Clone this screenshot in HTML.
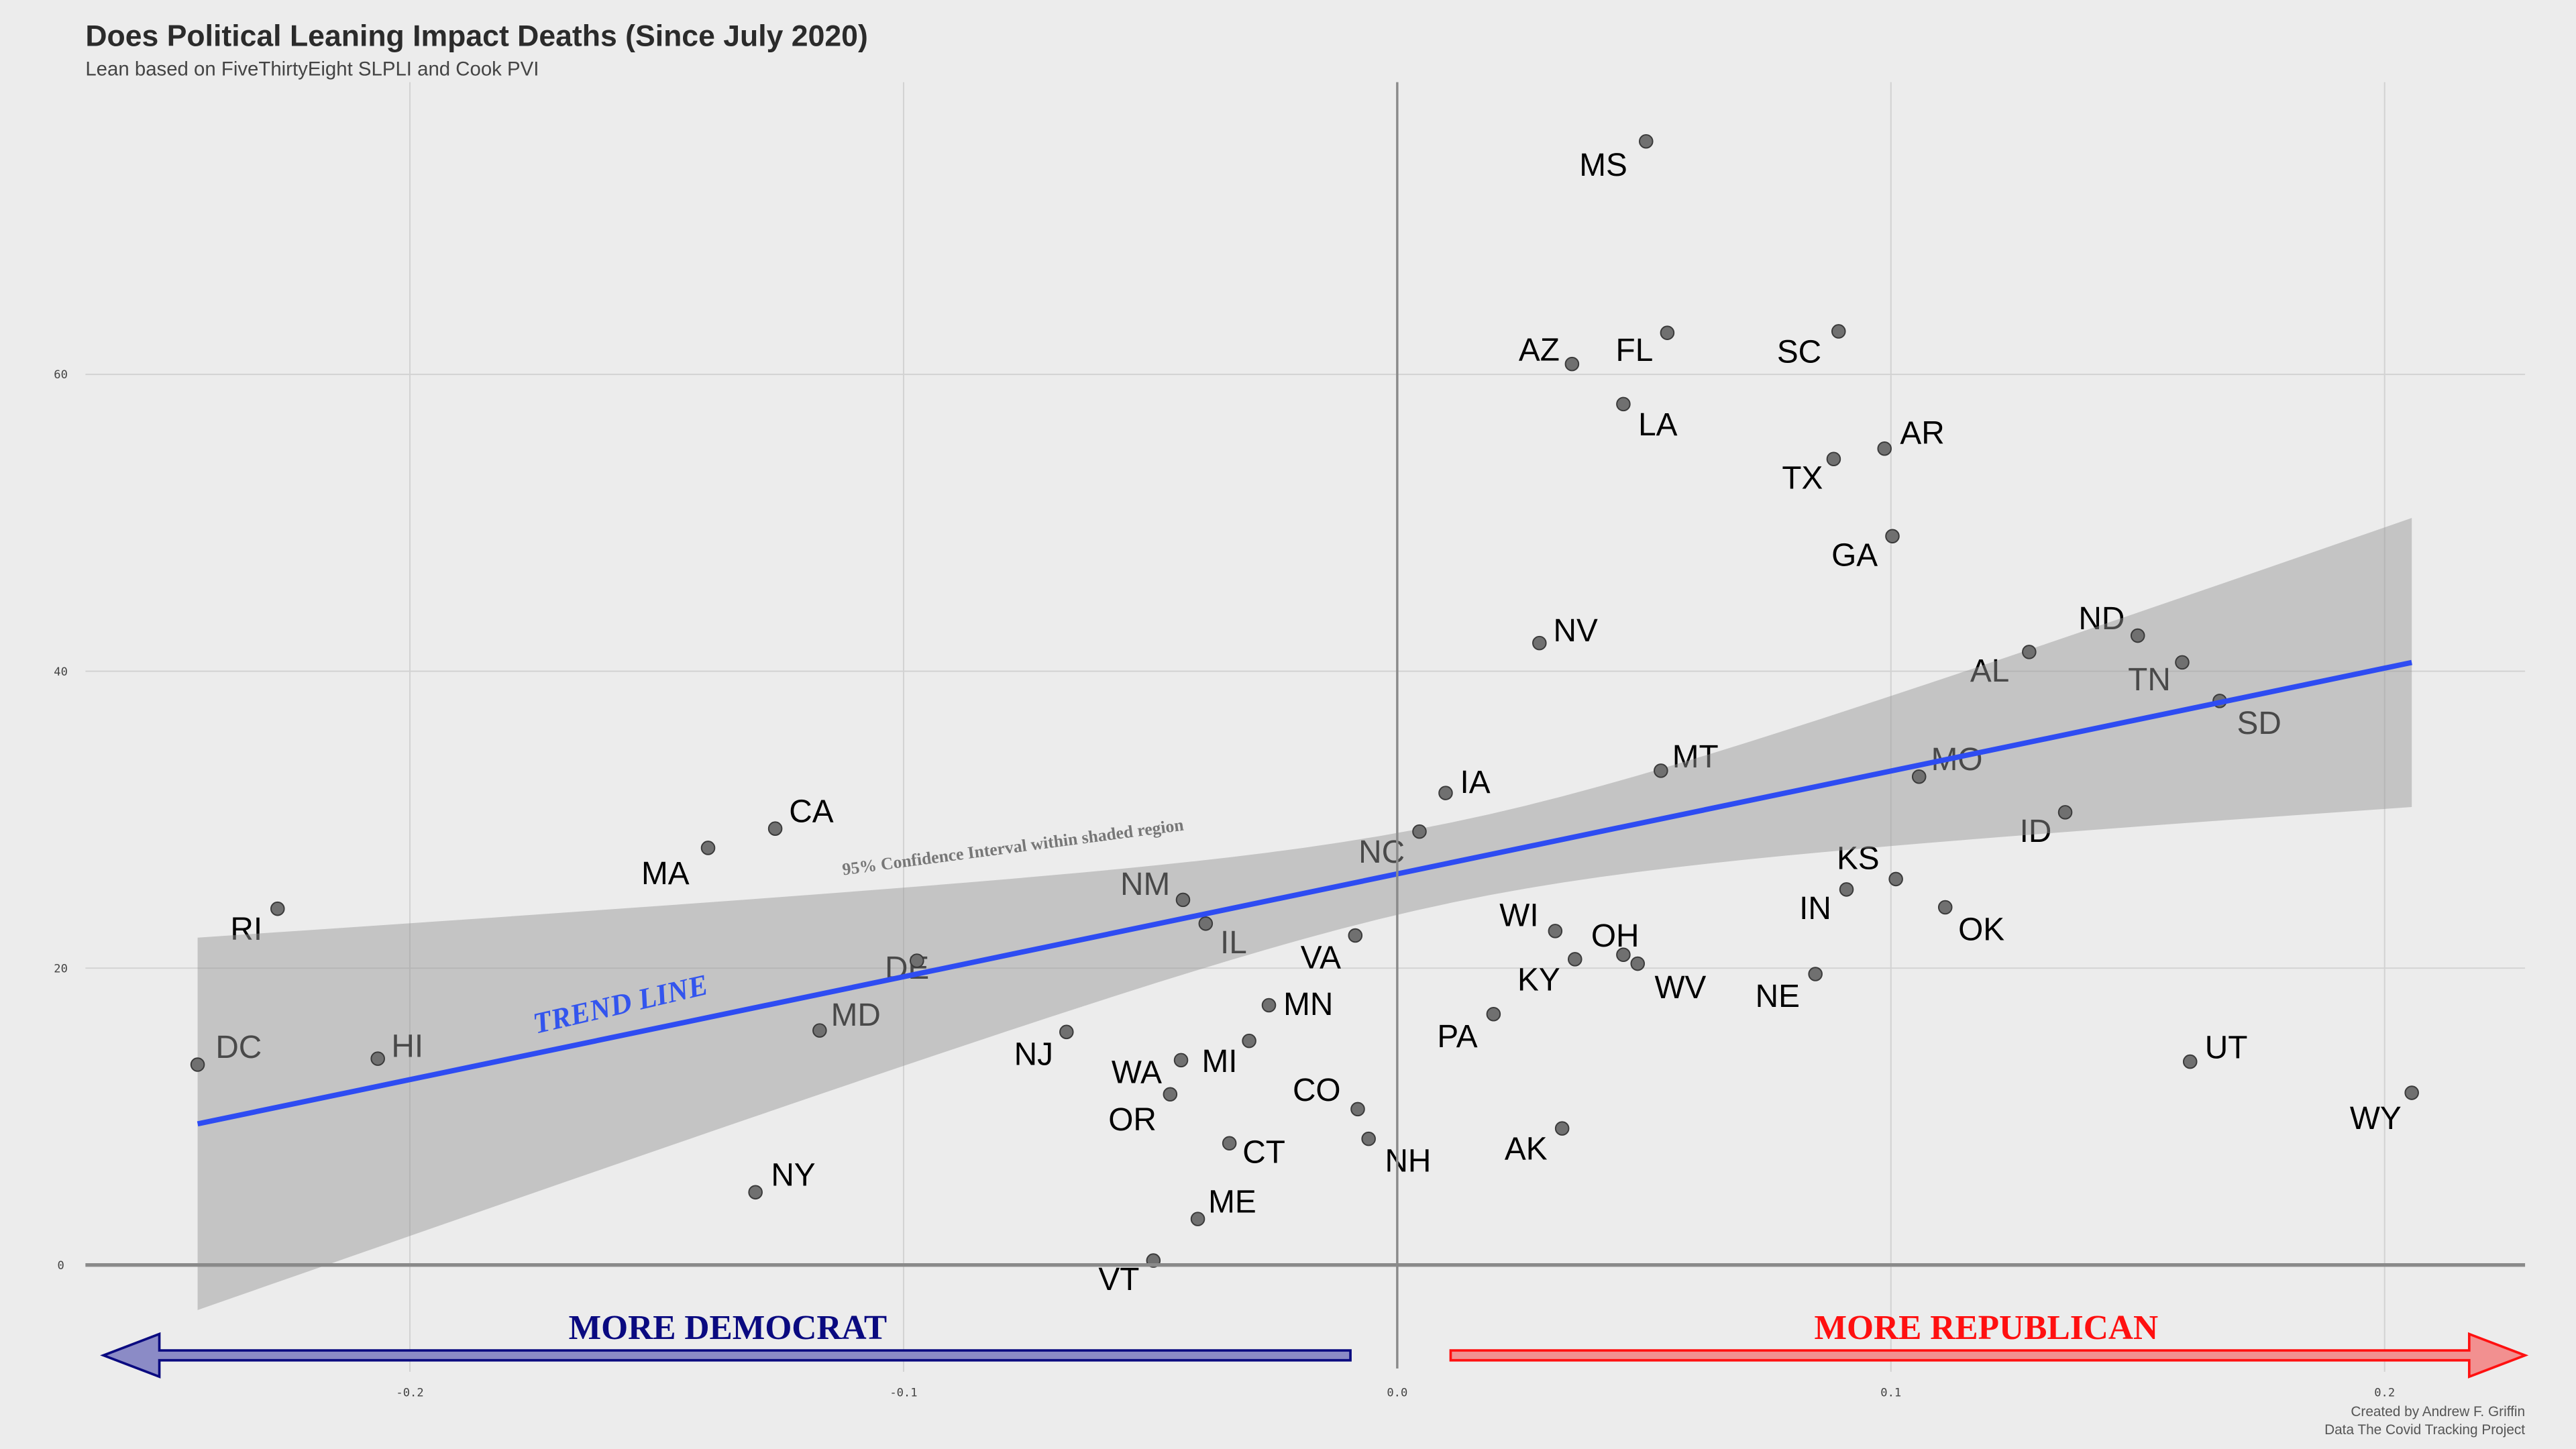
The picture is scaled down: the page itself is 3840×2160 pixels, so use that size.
<!DOCTYPE html>
<html><head><meta charset="utf-8"><style>
html,body{margin:0;padding:0;background:#ececec;}
svg{display:block;}
</style></head><body>
<svg id="chart" xmlns="http://www.w3.org/2000/svg" width="3840" height="2160" viewBox="0 0 1568 882" font-family="Liberation Sans, sans-serif">
<rect width="1568" height="882" fill="#ececec"/>
<text x="52" y="28" font-size="18.2" font-weight="bold" fill="#2b2b2b">Does Political Leaning Impact Deaths (Since July 2020)</text>
<text x="52" y="46" font-size="12" fill="#444">Lean based on FiveThirtyEight SLPLI and Cook PVI</text>
<g id="grid"></g>
<g id="labels"></g>
<g id="band"></g>
<g id="pts"></g>
<g id="trend"></g>
<g id="axes"></g>
<text transform="translate(379,617) rotate(-13)" text-anchor="middle" font-family="Liberation Serif, serif" font-style="italic" font-weight="bold" font-size="18" fill="#3355ee">TREND LINE</text>
<text transform="translate(617,519) rotate(-7.5)" text-anchor="middle" font-family="Liberation Serif, serif" font-weight="bold" font-size="10.5" fill="#777">95% Confidence Interval within shaded region</text>
<path d="M822,822 L97,822 L97,812 L63,825 L97,838 L97,828 L822,828 Z" fill="#8b8bc6" stroke="#0a0a80" stroke-width="1.5"/>
<path d="M883,822 L1503,822 L1503,812 L1537,825 L1503,838 L1503,828 L883,828 Z" fill="#f29090" stroke="#ff1010" stroke-width="1.5"/>
<text x="443" y="815" text-anchor="middle" font-family="Liberation Serif, serif" font-weight="bold" font-size="21" fill="#0a0a80">MORE DEMOCRAT</text>
<text x="1209" y="815" text-anchor="middle" font-family="Liberation Serif, serif" font-weight="bold" font-size="21" fill="#ff1010">MORE REPUBLICAN</text>
<text x="1537" y="862" text-anchor="end" font-size="8.5" fill="#555">Created by Andrew F. Griffin</text>
<text x="1537" y="873" text-anchor="end" font-size="8.5" fill="#555">Data The Covid Tracking Project</text>
</svg>
<script>
const states = ["DC","HI","RI","MA","CA","MD","DE","NY","NJ","NM","IL","WA","OR","MI","MN","CT","ME","VT","VA","CO","NH","NC","IA","NV","WI","KY","OH","WV","PA","AK","MT","AZ","FL","LA","MS","SC","TX","AR","GA","NE","IN","KS","OK","MO","ID","AL","ND","TN","SD","UT","WY"];
const lean = [-0.243,-0.2065,-0.2268,-0.1396,-0.126,-0.117,-0.0973,-0.130,-0.067,-0.0434,-0.0388,-0.0438,-0.046,-0.030,-0.026,-0.034,-0.0404,-0.0494,-0.0085,-0.008,-0.0058,0.0045,0.0098,0.0288,0.032,0.036,0.0458,0.0487,0.0195,0.0334,0.0534,0.0354,0.0547,0.0458,0.0504,0.0894,0.0884,0.0987,0.1003,0.0847,0.091,0.101,0.111,0.1057,0.1353,0.128,0.150,0.159,0.1666,0.1606,0.2055];
const deaths = [13.5,13.9,24.0,28.1,29.4,15.8,20.5,4.9,15.7,24.6,23.0,13.8,11.5,15.1,17.5,8.2,3.1,0.3,22.2,10.5,8.5,29.2,31.8,41.9,22.5,20.6,20.9,20.3,16.9,9.2,33.3,60.7,62.8,58.0,75.7,62.9,54.3,55.0,49.1,19.6,25.3,26.0,24.1,32.9,30.5,41.3,42.4,40.6,38.0,13.7,11.6];
const labelDx = [25,18,-19,-26,22,22,-6,23,-20,-23,17,-27,-23,-18,24,21,21,-21,-21,-25,24,-23,18,22,-22,-22,-5,26,-22,-22,21,-20,-20,21,-26,-24,-19,23,-23,-23,-19,-23,22,23,-18,-24,-22,-20,24,22,-22];
const labelDy = [-11,-8,12,15,-11,-10,4,-11,13,-10,11,7,15,12,-1,5,-11,11,13,-12,13,12,-7,-8,-10,12,-12,14,13,12,-9,-9,10,12,14,12,11,-10,11,13,11,-13,13,-11,11,11,-11,10,13,-9,15];
const xTicks = [-0.2,-0.1,0.0,0.1,0.2];
const xTickLabels = ["-0.2","-0.1","0.0","0.1","0.2"];
const yTicks = [0,20,40,60];
const yTickLabels = ["0","20","40","60"];
const trendSlope = 69.3, trendIntercept = 26.35;
const bandCenter = 0.0113, bandA = 7.3, bandB = 2321;

const NS="http://www.w3.org/2000/svg";
const X = v => 850.5 + v*3005;
const Y = v => 770 - v*9.035;
function mk(tag, attrs, parent){const e=document.createElementNS(NS,tag);for(const k in attrs)e.setAttribute(k,attrs[k]);parent.appendChild(e);return e;}
const grid=document.getElementById('grid'), axes=document.getElementById('axes');
xTicks.forEach((t,i)=>{
  if(t!==0){const l=mk('line',{x1:X(t),x2:X(t),y1:50,y2:835,stroke:'#d2d2d2','stroke-width':0.8},grid);
  
  }
  const tx=mk('text',{x:X(t),y:850,'text-anchor':'middle','font-size':7,'font-family':'DejaVu Sans Mono, monospace',fill:'#444'},axes);
  tx.textContent=xTickLabels[i];
  
  
});
yTicks.forEach((t,i)=>{
  if(t!==0){const l=mk('line',{x1:52,x2:1537,y1:Y(t),y2:Y(t),stroke:'#d2d2d2','stroke-width':0.8},grid);
  
  }
  const tx=mk('text',{x:37,y:Y(t)+2.5,'text-anchor':'middle','font-size':7,'font-family':'DejaVu Sans Mono, monospace',fill:'#444'},axes);
  tx.textContent=yTickLabels[i];
  
  
});
const z0=mk('line',{x1:52,x2:1537,y1:Y(0),y2:Y(0),stroke:'#8a8a8a','stroke-width':2.2},axes);


const v0=mk('line',{x1:X(0),x2:X(0),y1:50,y2:833,stroke:'#8a8a8a','stroke-width':1.4},axes);



const lg=document.getElementById('labels');
states.forEach((s,i)=>{
  const t=mk('text',{x:X(lean[i])+labelDx[i],y:Y(deaths[i])+labelDy[i]+7,'text-anchor':'middle','font-size':19.5,fill:'#000'},lg);
  t.textContent=s;
  
  
});
const xmin=Math.min(...lean), xmax=Math.max(...lean);
let up=[],dn=[];
for(let k=0;k<=60;k++){const x=xmin+(xmax-xmin)*k/60;const f=trendIntercept+trendSlope*x;const hw=Math.sqrt(bandA+bandB*(x-bandCenter)**2);
up.push(X(x)+','+Y(f+hw));dn.unshift(X(x)+','+Y(f-hw));}
const band=mk('polygon',{points:up.concat(dn).join(' '),fill:'#999','fill-opacity':0.48},document.getElementById('band'));


const pg=document.getElementById('pts');
states.forEach((s,i)=>{
  const c=mk('circle',{cx:X(lean[i]),cy:Y(deaths[i]),r:4,fill:'#707070',stroke:'#3a3a3a','stroke-width':0.8},pg);
  
  
});
const tl=mk('line',{x1:X(xmin),y1:Y(trendIntercept+trendSlope*xmin),x2:X(xmax),y2:Y(trendIntercept+trendSlope*xmax),stroke:'#2e4cf2','stroke-width':3.2},document.getElementById('trend'));


</script>
</body></html>
